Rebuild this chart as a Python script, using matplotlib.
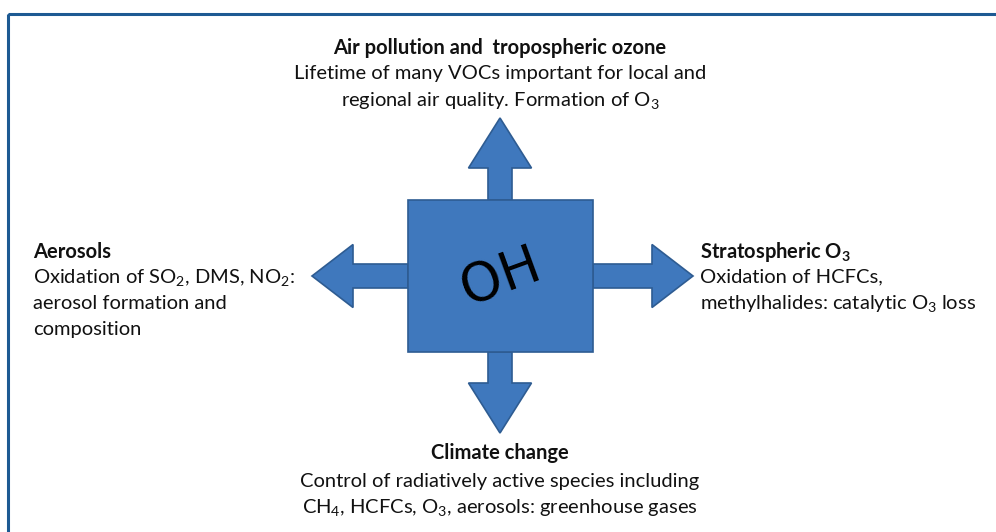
import matplotlib
matplotlib.use('Agg')
import matplotlib.pyplot as plt
from matplotlib.patches import Rectangle, FancyArrow

plt.rcParams['font.family'] = ['Lato', 'DejaVu Sans']
plt.rcParams['mathtext.fontset'] = 'custom'
plt.rcParams['mathtext.rm'] = 'Lato'
plt.rcParams['mathtext.bf'] = 'Lato:bold'
plt.rcParams['mathtext.default'] = 'regular'

# text content
centre_label = 'OH'
top_title = 'Air pollution and  tropospheric ozone'
top_lines = ['Lifetime of many VOCs important for local and',
             'regional air quality. Formation of O$_3$']
left_title = 'Aerosols'
left_lines = ['Oxidation of SO$_2$, DMS, NO$_2$:',
              'aerosol formation and',
              'composition']
right_title = 'Stratospheric O$_3$'
right_lines = ['Oxidation of HCFCs,',
               'methylhalides: catalytic O$_3$ loss']
bottom_title = 'Climate change'
bottom_lines = ['Control of radiatively active species including',
                'CH$_4$, HCFCs, O$_3$, aerosols: greenhouse gases']

fill = '#3F78BD'
edge = '#2E5C92'
txt = '#111111'

fig = plt.figure(figsize=(9.96, 5.32), dpi=100)
ax = fig.add_axes([0, 0, 1, 1])
ax.set_xlim(0, 996)
ax.set_ylim(532, 0)
ax.axis('off')

# outer frame (right and bottom edges run off the picture)
ax.add_patch(Rectangle((8, 14), 1100, 600, fill=False, ec='#1D5A93', lw=2.2))

# arrows out of the box
cx, cy = 500, 276
shaft = 24
head_w = 63
arrows = [
    (cx, 200, 0, -82, 50),   # up
    (cx, 352, 0, 81, 50),    # down
    (408, cy, -96, 0, 41),   # left
    (593, cy, 100, 0, 41),   # right
]
for x0, y0, dx, dy, hl in arrows:
    ax.add_patch(FancyArrow(x0, y0, dx, dy, width=shaft, head_width=head_w,
                            head_length=hl, length_includes_head=True,
                            fc=fill, ec=edge, lw=1.2, zorder=2))

ax.add_patch(Rectangle((408, 200), 185, 152, fc=fill, ec=edge, lw=1.2, zorder=3))
ax.text(501, 277, centre_label, fontsize=38, rotation=20, ha='center', va='center',
        color='black', family='DejaVu Sans', zorder=4)

fs = 14.5
# top block
ax.text(500, 48, top_title, fontsize=fs, fontweight='bold', ha='center', va='center', color=txt)
for i, s in enumerate(top_lines):
    ax.text(500, 74 + 26.5 * i, s, fontsize=fs, ha='center', va='center', color=txt)

# left block
ax.text(33, 252, left_title, fontsize=fs, fontweight='bold', ha='left', va='center', color=txt)
for i, s in enumerate(left_lines):
    ax.text(33, 277 + 26.5 * i, s, fontsize=fs, ha='left', va='center', color=txt)

# right block
ax.text(700, 252, right_title, fontsize=fs, fontweight='bold', ha='left', va='center', color=txt)
for i, s in enumerate(right_lines):
    ax.text(700, 277 + 26.5 * i, s, fontsize=fs, ha='left', va='center', color=txt)

# bottom block
ax.text(500, 453, bottom_title, fontsize=fs, fontweight='bold', ha='center', va='center', color=txt)
for i, s in enumerate(bottom_lines):
    ax.text(500, 481 + 26 * i, s, fontsize=fs, ha='center', va='center', color=txt)

fig.savefig('out.png', dpi=100)
